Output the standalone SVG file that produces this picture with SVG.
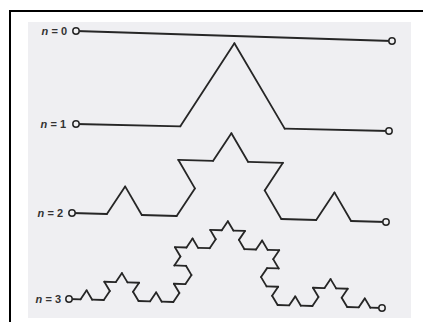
<svg xmlns="http://www.w3.org/2000/svg" xmlns:xlink="http://www.w3.org/1999/xlink" width="423" height="322" viewBox="0 0 423 322">
<style>
.seg{fill:none;stroke:#262626;stroke-width:1.8;stroke-linecap:round;vector-effect:non-scaling-stroke}
.end{fill:#f1f1f3;stroke:#262626;stroke-width:1.5}
.lbl{font-family:"Liberation Sans",Arial,sans-serif;font-size:11px;font-weight:bold;fill:#333;text-anchor:end}
.frame{stroke:#000;stroke-width:2;fill:none}
</style>
<defs>
<path id="k0" class="seg" d="M0,0 L1,0"/>
<g id="k1">
<use xlink:href="#k0" href="#k0" transform="scale(0.333333)"/>
<use xlink:href="#k0" href="#k0" transform="translate(0.333333,0) rotate(-60) scale(0.333333)"/>
<use xlink:href="#k0" href="#k0" transform="translate(0.5,-0.288675) rotate(60) scale(0.333333)"/>
<use xlink:href="#k0" href="#k0" transform="translate(0.666667,0) scale(0.333333)"/>
</g>
<g id="k2">
<use xlink:href="#k1" href="#k1" transform="scale(0.333333)"/>
<use xlink:href="#k1" href="#k1" transform="translate(0.333333,0) rotate(-60) scale(0.333333)"/>
<use xlink:href="#k1" href="#k1" transform="translate(0.5,-0.288675) rotate(60) scale(0.333333)"/>
<use xlink:href="#k1" href="#k1" transform="translate(0.666667,0) scale(0.333333)"/>
</g>
<g id="k3">
<use xlink:href="#k2" href="#k2" transform="scale(0.333333)"/>
<use xlink:href="#k2" href="#k2" transform="translate(0.333333,0) rotate(-60) scale(0.333333)"/>
<use xlink:href="#k2" href="#k2" transform="translate(0.5,-0.288675) rotate(60) scale(0.333333)"/>
<use xlink:href="#k2" href="#k2" transform="translate(0.666667,0) scale(0.333333)"/>
</g>
</defs>
<rect width="423" height="322" fill="#ffffff"/>
<rect x="28" y="22" width="383" height="296" fill="#efeff2"/>
<path class="frame" d="M10,322 V11 H423"/>
<g id="curve-n0">
<line class="seg" x1="76" y1="31" x2="392" y2="41"/>
<circle class="end" cx="76" cy="31" r="3.2"/>
<circle class="end" cx="392" cy="41" r="3.2"/>
<text class="lbl" x="67" y="35"><tspan font-style="italic">n</tspan> = 0</text>
</g>
<g id="curve-n1">
<use xlink:href="#k1" href="#k1" transform="translate(76,124) rotate(1.28) scale(313.1,292)"/>
<circle class="end" cx="76" cy="124" r="3.2"/>
<circle class="end" cx="389" cy="131" r="3.2"/>
<text class="lbl" x="66" y="128"><tspan font-style="italic">n</tspan> = 1</text>
</g>
<g id="curve-n2">
<use xlink:href="#k2" href="#k2" transform="translate(72,213) rotate(1.64) scale(314.1,292)"/>
<circle class="end" cx="72" cy="213" r="3.2"/>
<circle class="end" cx="386" cy="222" r="3.2"/>
<text class="lbl" x="63" y="217"><tspan font-style="italic">n</tspan> = 2</text>
</g>
<g id="curve-n3">
<use xlink:href="#k3" href="#k3" transform="translate(69,299) rotate(1.65) scale(313.1,285)"/>
<circle class="end" cx="69" cy="299" r="3.2"/>
<circle class="end" cx="382" cy="308" r="3.2"/>
<text class="lbl" x="61" y="303"><tspan font-style="italic">n</tspan> = 3</text>
</g>
</svg>
